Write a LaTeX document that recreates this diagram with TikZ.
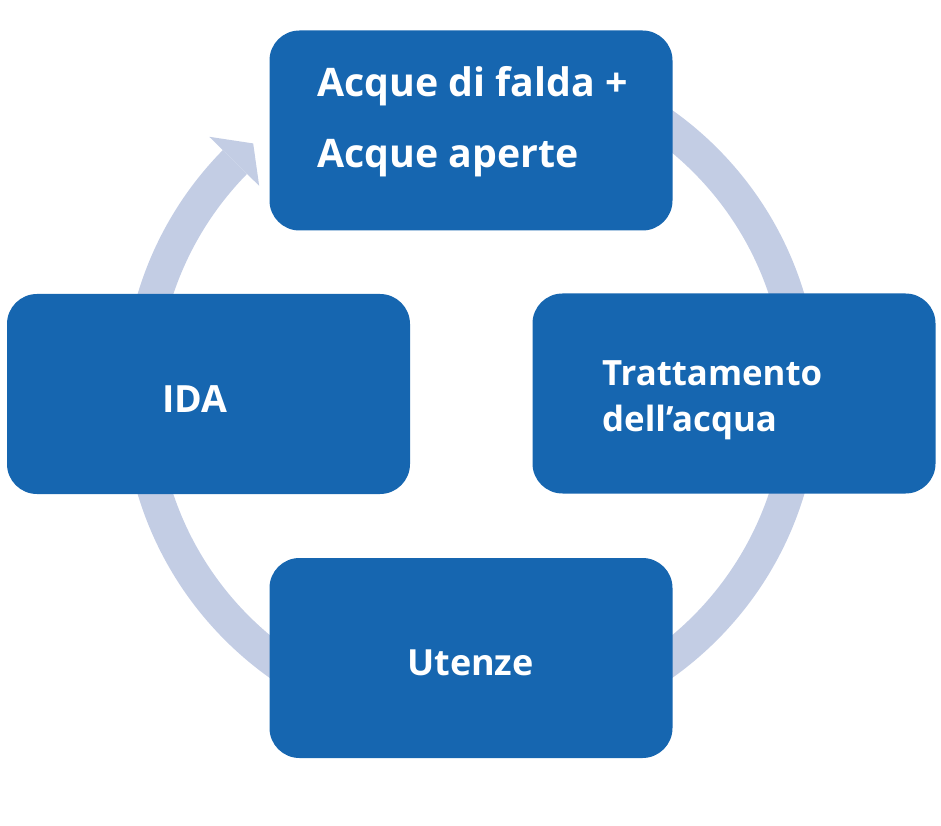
\documentclass[tikz,border=0pt]{standalone}
\usepackage{fontspec}
\setmainfont{Open Sans}
\usetikzlibrary{calc}
\definecolor{boxblue}{RGB}{22,102,176}
\definecolor{ringcol}{RGB}{195,205,228}
\begin{document}
\begin{tikzpicture}[x=1pt,y=1pt,
  box/.style={draw=none,fill=boxblue,rounded corners=30pt,minimum width=403pt,minimum height=200pt,inner sep=0pt},
  lbl/.style={anchor=base west,inner sep=0pt,text=white,font=\bfseries}]
\useasboundingbox (0,0) rectangle (941,825);
% ring with arrow
\begin{scope}[shift={(471,431)}]
  \fill[ringcol] (135.5:348) arc[start angle=135.5,end angle=460,radius=348]
     -- (460:314) arc[start angle=460,end angle=135.5,radius=314] -- cycle;
  \fill[ringcol] (135.5:297) -- (131:332) -- (135.5:367) -- cycle;
\end{scope}
% boxes
\node[box] (top) at (471,694.5) {};
\node[box] (left) at (208.5,431) {};
\node[box] (right) at (734,431.5) {};
\node[box] (bottom) at (471,167) {};
% labels
\node[lbl,font=\bfseries\fontsize{39.3}{44}\selectfont] (t1) at (317,728) {Acque di falda +};
\node[lbl,font=\bfseries\fontsize{39.3}{44}\selectfont] (t2) at (317,657) {Acque aperte};
\node[lbl,font=\bfseries\fontsize{34.8}{40}\selectfont] (r1) at (602,439) {Trattamento};
\node[lbl,font=\bfseries\fontsize{37.5}{44}\selectfont] (l1) at (162,412) {IDA};
\node[lbl,font=\bfseries\fontsize{34.8}{40}\selectfont] (r2) at (602,393) {dell’acqua};
\node[lbl,font=\bfseries\fontsize{36}{44}\selectfont] (b1) at (407,150) {Utenze};
\end{tikzpicture}
\end{document}
